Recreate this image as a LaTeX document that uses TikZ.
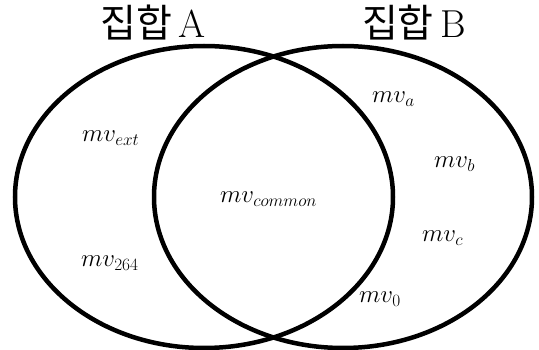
\documentclass[tikz,border=0pt]{standalone}
\usepackage{fontspec}
\newfontfamily\cjk{Noto Sans CJK KR}
\usetikzlibrary{shapes.geometric}

\begin{document}
\begin{tikzpicture}[
    x=1pt, y=-1pt,
    set/.style={draw, ellipse, line width=4.5pt, inner sep=0pt,
                minimum width=378pt, minimum height=302pt},
    title/.style={inner sep=0pt, font=\fontsize{39}{44}\selectfont},
    elem/.style={anchor=base west, inner sep=0pt,
                 font=\fontsize{27}{32}\selectfont}
  ]
  \useasboundingbox (0,0) rectangle (539,350);
  \node[set] (setA) at (204,197) {};
  \node[set] (setB) at (343,197) {};
  \node[title] (titleA) at (153,23) {{\cjk 집합}\,A};
  \node[title] (titleB) at (414,23) {{\cjk 집합}\,B};

  \node[elem] (ext) at (82,142) {$mv_{ext}$};
  \node[elem] (n264) at (81,267) {$mv_{264}$};
  \node[elem] (common) at (220,203) {$mv_{common}$};
  \node[elem] (ea) at (372,103) {$mv_{a}$};
  \node[elem] (eb) at (434,168) {$mv_{b}$};
  \node[elem] (ec) at (422,242) {$mv_{c}$};
  \node[elem] (zero) at (359,303) {$mv_{0}$};
\end{tikzpicture}
\end{document}
